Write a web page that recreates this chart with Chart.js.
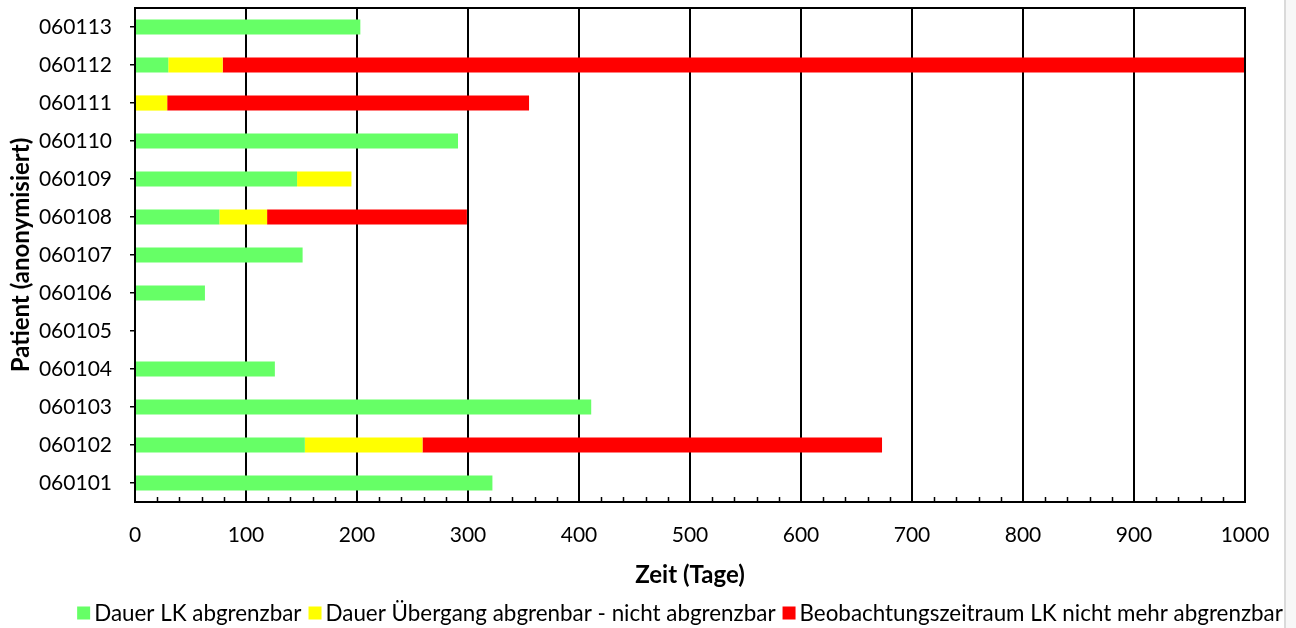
<!DOCTYPE html>
<html lang="de">
<head>
<meta charset="utf-8">
<title>Beobachtungsdauer je Patient</title>
<script src="https://cdn.jsdelivr.net/npm/chart.js@4/dist/chart.umd.min.js"></script>
<style>
  html, body { margin: 0; padding: 0; background: #ffffff; }
  #wrap { position: relative; width: 1296px; height: 628px; }
  #edge { position: absolute; left: 1284px; top: 0; width: 2px; height: 628px; background: #dadada; }
  #outside { position: absolute; left: 1286px; top: 0; width: 10px; height: 628px; background: #f7f7f7; }
  canvas { position: absolute; left: 0; top: 0; }
</style>
</head>
<body>
<div id="wrap">
  <div id="edge"></div>
  <div id="outside"></div>
  <canvas id="chart" width="1296" height="628"></canvas>
</div>
<script>
// Patients (anonymised IDs)
const patients = ['060101', '060102', '060103', '060104', '060105', '060106', '060107',
                  '060108', '060109', '060110', '060111', '060112', '060113'];

// Days per phase, stacked left to right
const daysAbgrenzbar   = [322, 153, 411, 126, 0, 63, 151, 76, 146, 291, 0, 30, 203];
const daysUebergang    = [0, 106, 0, 0, 0, 0, 0, 43, 49, 0, 29, 49, 0];
const daysNichtMehr    = [0, 414, 0, 0, 0, 0, 0, 180, 0, 0, 326, 921, 0];

const seriesLabels = [
  'Dauer LK abgrenzbar',
  'Dauer Übergang abgrenbar - nicht abgrenzbar',
  'Beobachtungszeitraum LK nicht mehr abgrenzbar'
];
const seriesColors = ['#66ff66', '#ffff00', '#ff0000'];

const xMin = 0, xMax = 1000, xStep = 100, xMinorStep = 20;

const FONT = 'Lato, "Open Sans", "DejaVu Sans", sans-serif';

// Box around the plot (top and right edges) plus the small inner minor ticks on the x axis
const frameAndMinorTicks = {
  id: 'frameAndMinorTicks',
  afterDraw(chart) {
    const {ctx, chartArea: a, scales: {x}} = chart;
    ctx.save();
    ctx.strokeStyle = '#000';
    ctx.lineWidth = 2;
    ctx.beginPath();
    ctx.moveTo(a.left, a.top);
    ctx.lineTo(a.right, a.top);
    ctx.lineTo(a.right, a.bottom);
    ctx.stroke();
    ctx.lineWidth = 1.5;
    ctx.beginPath();
    for (let v = xMin; v <= xMax; v += xMinorStep) {
      if (v % xStep === 0) continue;
      const px = Math.round(x.getPixelForValue(v)) + 0.5;
      ctx.moveTo(px, a.bottom);
      ctx.lineTo(px, a.bottom - 5);
    }
    ctx.stroke();
    ctx.restore();
  }
};

// Compact legend row under the axis title
const bottomLegend = {
  id: 'bottomLegend',
  afterDraw(chart, args, opts) {
    const {ctx} = chart;
    const ds = chart.data.datasets;
    ctx.save();
    ctx.font = `${opts.fontSize}px ${FONT}`;
    ctx.textBaseline = 'middle';
    ctx.textAlign = 'left';
    const box = opts.box, gapBox = opts.gapBox, gapItem = opts.gapItem;
    const widths = ds.map(d => ctx.measureText(d.label).width);
    let total = 0;
    widths.forEach((w, i) => { total += box + gapBox + w + (i < widths.length - 1 ? gapItem : 0); });
    let xPos = opts.centerX - total / 2;
    const y = opts.y;
    ds.forEach((d, i) => {
      ctx.fillStyle = d.backgroundColor;
      ctx.fillRect(xPos, y - box / 2, box, box);
      xPos += box + gapBox;
      ctx.fillStyle = '#000';
      ctx.fillText(d.label, xPos, y + 1);
      xPos += widths[i] + gapItem;
    });
    ctx.restore();
  }
};

const seriesValues = [daysAbgrenzbar, daysUebergang, daysNichtMehr];

new Chart(document.getElementById('chart'), {
  type: 'bar',
  data: {
    labels: patients,
    datasets: seriesValues.map((vals, i) => ({
      label: seriesLabels[i],
      data: vals,
      backgroundColor: seriesColors[i],
      borderWidth: 0,
      barPercentage: 0.4,
      categoryPercentage: 1.0
    }))
  },
  options: {
    indexAxis: 'y',
    responsive: false,
    animation: false,
    devicePixelRatio: 1,
    layout: { padding: { top: 8, right: 51, left: 0, bottom: 0 } },
    plugins: {
      legend: { display: false },
      tooltip: { enabled: false },
      bottomLegend: { fontSize: 22.4, box: 13, gapBox: 4, gapItem: 7, centerX: 680, y: 613 }
    },
    scales: {
      x: {
        type: 'linear',
        stacked: true,
        min: xMin,
        max: xMax,
        ticks: {
          stepSize: xStep,
          padding: 21,
          color: '#000',
          font: { family: FONT, size: 21 },
          maxRotation: 0,
          callback: v => String(v)
        },
        grid: { color: '#000', lineWidth: 2, drawTicks: false },
        border: { color: '#000', width: 2 },
        title: {
          display: true,
          text: 'Zeit (Tage)',
          color: '#000',
          font: { family: FONT, size: 24, weight: 'bold' },
          padding: { top: 38, bottom: 38 }
        },
        afterFit(scale) {
          scale.height = 126;
          scale.paddingLeft = 0;
          scale.paddingRight = 0;
        }
      },
      y: {
        type: 'category',
        stacked: true,
        reverse: true,
        ticks: { padding: 18, color: '#000', font: { family: FONT, size: 21 } },
        grid: { offset: false, drawOnChartArea: false, drawTicks: true, tickLength: 5, color: '#000', lineWidth: 1.5 },
        border: { color: '#000', width: 2 },
        title: {
          display: true,
          text: 'Patient (anonymisiert)',
          color: '#000',
          font: { family: FONT, size: 24, weight: 'bold' },
          padding: { top: 7, bottom: 7 }
        },
        afterFit(scale) {
          scale.width = 135;
          scale.paddingTop = 0;
          scale.paddingBottom = 0;
        }
      }
    }
  },
  plugins: [frameAndMinorTicks, bottomLegend]
});
</script>
</body>
</html>
